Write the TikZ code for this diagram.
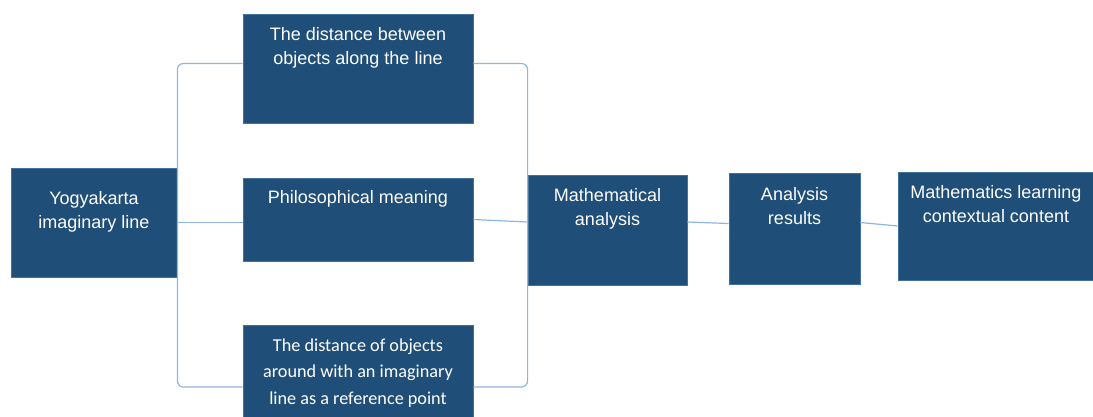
\documentclass[tikz,border=0pt]{standalone}
\usepackage{fontspec}
\setmainfont{Liberation Sans}
\newfontfamily\calibrifont{Carlito}
\usetikzlibrary{positioning}
\definecolor{boxfill}{HTML}{1F4E79}
\definecolor{boxedge}{HTML}{41719C}
\definecolor{linkblue}{HTML}{8DB6E2}

\begin{document}
\begin{tikzpicture}[x=1pt, y=-1pt,
  box/.style ={rectangle, fill=boxfill, draw=boxedge, line width=0.8pt, inner sep=0pt},
  box_text/.style ={text=white, align=center, inner sep=0pt, font=\fontsize{18}{24}\selectfont},
  box_text_cal/.style ={box_text, font=\calibrifont\fontsize{18.2}{26.5}\selectfont},
  link/.style ={draw=linkblue, line width=1.2pt}]
  \useasboundingbox (0,0) rectangle (1093,416);
  % boxes
  \node[box, minimum width=166pt, minimum height=109pt] (yog) at (94,222.5) {};
  \node[box, minimum width=230pt, minimum height=109pt] (top) at (358,68.5) {};
  \node[box, minimum width=230pt, minimum height=83pt] (mid) at (358,219.5) {};
  \node[box, minimum width=230pt, minimum height=124pt] (bot) at (358,387) {};
  \node[box, minimum width=159pt, minimum height=110pt] (math) at (607.5,230) {};
  \node[box, minimum width=131pt, minimum height=111pt] (res) at (794.5,228.5) {};
  \node[box, minimum width=196pt, minimum height=108pt] (learn) at (996,226) {};
  % texts
  \node[box_text, below=24pt of yog.north] (yogtext) {Yogyakarta\\imaginary line};
  \node[box_text, below=14pt of top.north] (toptext) {The distance between\\objects along the line};
  \node[box_text, below=13pt of mid.north] (midtext) {Philosophical meaning};
  \node[box_text_cal, below=14pt of bot.north] (bottext) {The distance of objects\\around with an imaginary\\line as a reference point};
  \node[box_text, below=14pt of math.north] (mathtext) {Mathematical\\analysis};
  \node[box_text, below=15pt of res.north] (restext) {Analysis\\results};
  \node[box_text, below=14pt of learn.north] (learntext) {Mathematics learning\\contextual content};
  % connectors
  \draw[link, rounded corners=6pt] ([yshift=5pt]top.west) -| (yog.east) |- (bot.west);
  \draw[link, rounded corners=6pt] ([yshift=5pt]top.east) -| (math.west) |- (bot.east);
  \draw[link] (yog.east) -- (yog.east -| mid.west);
  \draw[link] (mid.east) -- ([yshift=8pt]math.west);
  \draw[link] ([yshift=8pt]math.east) -- ([yshift=5pt]res.west);
  \draw[link] ([yshift=6pt]res.east) -- (learn.west);
\end{tikzpicture}
\end{document}
